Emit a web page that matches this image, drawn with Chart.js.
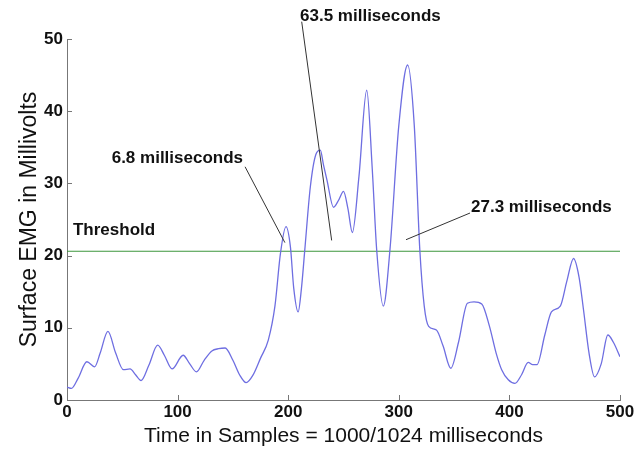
<!DOCTYPE html>
<html lang="en">
<head>
<meta charset="UTF-8">
<title>Surface EMG</title>
<style>
    body { margin: 0; background: #fff; }
    #wrap { width: 642px; height: 449px; }
</style>
</head>
<body>
<div id="wrap"><canvas id="chart" width="642" height="449"></canvas></div>
<script src="https://cdn.jsdelivr.net/npm/chart.js"></script>
<script>
    // samples (x) and EMG amplitude in millivolts (y)
    const sampleX = [0, 4, 10, 18, 25, 30, 37, 44, 51, 57, 62, 67, 74, 82, 88, 95, 105, 111, 117, 124, 131, 137, 143, 150, 156, 162, 168, 175, 182, 188, 193, 198, 202, 205, 209, 212, 215, 220, 225, 229, 232, 235, 241, 246, 250, 254, 258, 264, 271, 276, 280, 286, 292, 300, 308, 314, 319, 323, 327, 334, 340, 347, 354, 362, 368, 375, 382, 388, 393, 399, 405, 411, 417, 421, 425, 432, 438, 446, 452, 458, 463, 467, 472, 477, 483, 489, 494, 500];
    const emgValues = [1.8, 1.6, 3.0, 5.3, 4.6, 6.5, 9.5, 6.5, 4.2, 4.3, 3.5, 2.7, 4.8, 7.6, 6.2, 4.3, 6.2, 5.0, 3.9, 5.5, 6.8, 7.1, 7.2, 5.5, 3.5, 2.4, 3.4, 5.8, 8.3, 13.0, 20.3, 24.0, 21.2, 15.5, 12.2, 15.5, 20.8, 29.5, 34.0, 34.6, 32.5, 30.5, 26.7, 27.8, 28.9, 26.5, 23.2, 31.0, 42.9, 32.0, 20.8, 13.0, 20.8, 38.0, 46.4, 38.0, 20.8, 13.0, 10.2, 9.7, 7.5, 4.4, 8.0, 13.4, 13.6, 13.3, 10.2, 6.5, 4.2, 2.8, 2.3, 3.5, 5.2, 4.9, 4.9, 9.0, 12.2, 13.0, 16.5, 19.6, 17.0, 12.5, 6.5, 3.2, 5.0, 9.0, 8.0, 6.0];
    const thresholdValue = 20.6;
    const xTicks = [0, 100, 200, 300, 400, 500];
    const yTicks = [0, 10, 20, 30, 40, 50];

    const curvePoints = sampleX.map((x, i) => ({ x: x, y: emgValues[i] }));
    const thresholdPoints = [{ x: 0, y: thresholdValue }, { x: 500, y: thresholdValue }];

    // text callouts: label position and the pointer line (data units)
    const callouts = [
        { text: '6.8 milliseconds', tx: 40.4, ty: 33.5, lx1: 161, ly1: 32.3, lx2: 197, ly2: 21.8 },
        { text: '63.5 milliseconds', tx: 210.7, ty: 53.1, lx1: 212.2, ly1: 52.4, lx2: 239.3, ly2: 22.1 },
        { text: '27.3 milliseconds', tx: 365.3, ty: 26.7, lx1: 364.4, ly1: 25.9, lx2: 306.5, ly2: 22.2 }
    ];

    const overlay = {
        id: 'overlay',
        afterDatasetsDraw(chart) {
            const ctx = chart.ctx;
            const xs = chart.scales.x, ys = chart.scales.y;
            ctx.save();
            // inward ticks
            ctx.strokeStyle = '#777';
            ctx.lineWidth = 1;
            xTicks.forEach(v => {
                const px = Math.round(xs.getPixelForValue(v)) + 0.5;
                ctx.beginPath();
                ctx.moveTo(px, ys.bottom);
                ctx.lineTo(px, ys.bottom - 5);
                ctx.stroke();
            });
            yTicks.forEach(v => {
                const py = Math.round(ys.getPixelForValue(v)) + 0.5;
                ctx.beginPath();
                ctx.moveTo(xs.left, py);
                ctx.lineTo(xs.left + 5, py);
                ctx.stroke();
            });
            ctx.fillStyle = '#111';
            ctx.font = 'bold 17px Arial, "Liberation Sans", sans-serif';
            ctx.textBaseline = 'middle';
            ctx.textAlign = 'left';
            ctx.fillText('Threshold', xs.getPixelForValue(5.4), ys.getPixelForValue(23.5));
            callouts.forEach(c => {
                ctx.strokeStyle = '#333';
                ctx.beginPath();
                ctx.moveTo(xs.getPixelForValue(c.lx1), ys.getPixelForValue(c.ly1));
                ctx.lineTo(xs.getPixelForValue(c.lx2), ys.getPixelForValue(c.ly2));
                ctx.stroke();
                ctx.fillText(c.text, xs.getPixelForValue(c.tx), ys.getPixelForValue(c.ty));
            });
            ctx.restore();
        }
    };

    new Chart(document.getElementById('chart'), {
        type: 'line',
        data: {
            datasets: [
                {
                    data: curvePoints,
                    borderColor: 'rgb(110, 110, 225)',
                    borderWidth: 1.3,
                    pointRadius: 0,
                    tension: 0.4,
                    cubicInterpolationMode: 'monotone',
                    fill: false
                },
                {
                    data: thresholdPoints,
                    borderColor: 'rgb(60, 150, 60)',
                    borderWidth: 1.2,
                    pointRadius: 0,
                    fill: false
                }
            ]
        },
        options: {
            responsive: false,
            animation: false,
            layout: { padding: { top: 39, right: 22, left: 0, bottom: 0 } },
            plugins: { legend: { display: false }, tooltip: { enabled: false } },
            scales: {
                x: {
                    type: 'linear',
                    min: 0,
                    max: 500,
                    afterBuildTicks: s => { s.ticks = xTicks.map(v => ({ value: v })); },
                    afterFit: s => { s.height = 49; },
                    grid: { display: true, drawOnChartArea: false, drawTicks: false, color: '#777' },
                    border: { color: '#777', width: 1 },
                    ticks: {
                        color: '#111',
                        padding: 2,
                        font: { family: 'Arial, "Liberation Sans", sans-serif', size: 17, weight: 'bold' }
                    },
                    title: {
                        display: true,
                        text: 'Time in Samples = 1000/1024 milliseconds',
                        color: '#111',
                        padding: { top: 0, bottom: 0 },
                        font: { family: 'Arial, "Liberation Sans", sans-serif', size: 21 }
                    }
                },
                y: {
                    min: 0,
                    max: 50,
                    afterBuildTicks: s => { s.ticks = yTicks.map(v => ({ value: v })); },
                    afterFit: s => { s.width = 67; },
                    grid: { display: true, drawOnChartArea: false, drawTicks: false, color: '#777' },
                    border: { color: '#777', width: 1 },
                    ticks: {
                        color: '#111',
                        padding: 4,
                        font: { family: 'Arial, "Liberation Sans", sans-serif', size: 17, weight: 'bold' }
                    },
                    title: {
                        display: true,
                        text: 'Surface EMG in Millivolts',
                        color: '#111',
                        padding: { top: 16, bottom: 0 },
                        font: { family: 'Arial, "Liberation Sans", sans-serif', size: 23 }
                    }
                }
            }
        },
        plugins: [overlay]
    });
</script>
</body>
</html>
